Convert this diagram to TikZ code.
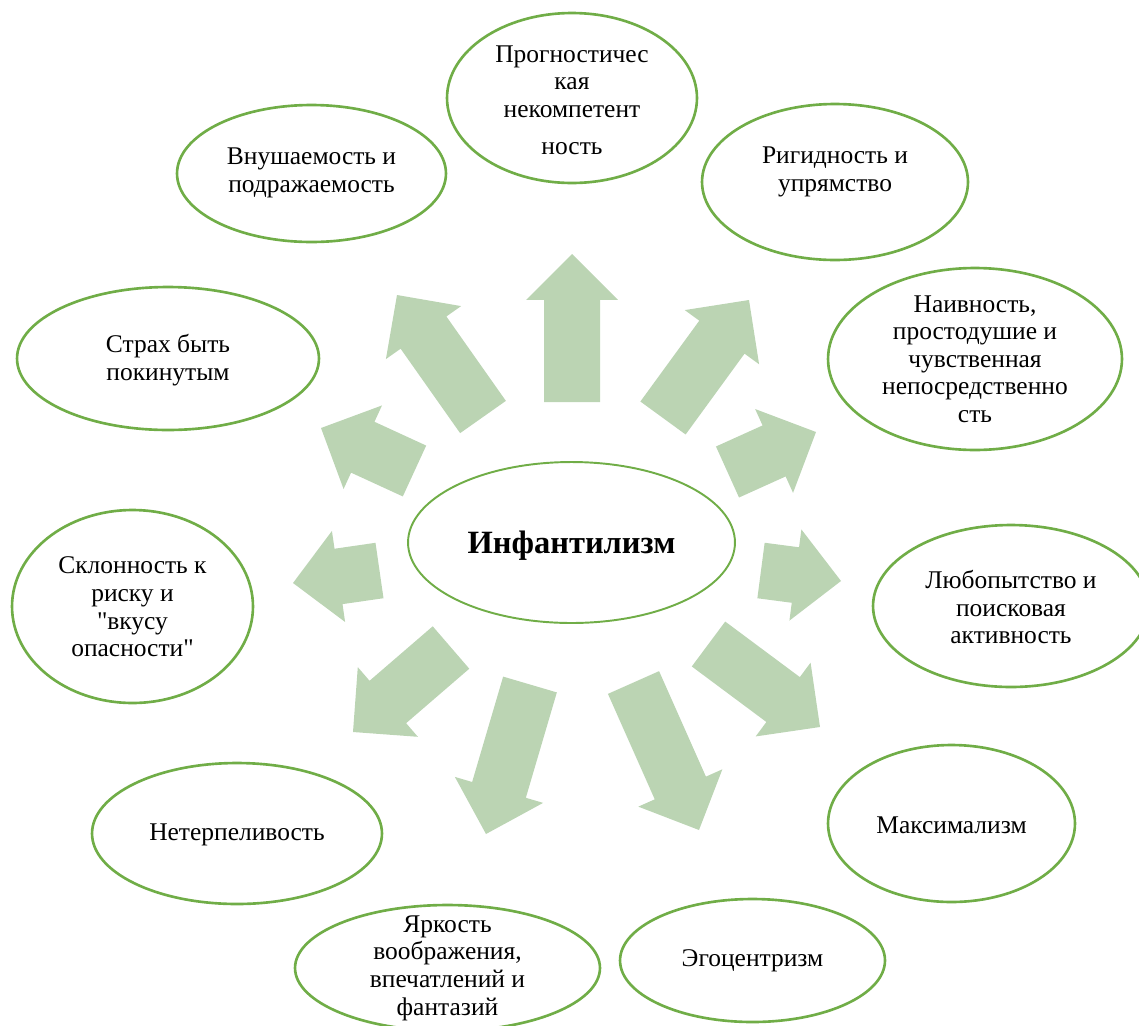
\documentclass[tikz,border=0pt]{standalone}
\usepackage{fontspec}
\setmainfont{Liberation Serif}[Ligatures=TeXOff]
\usepackage{tikz}
\usetikzlibrary{calc,shapes.geometric}
\definecolor{traitgreen}{HTML}{70AD47}
\definecolor{arrowgreen}{HTML}{BBD4B3}
\tikzstyle{trait}=[ellipse, draw=traitgreen, line width=1.5pt, inner sep=0pt]
\tikzstyle{core}=[ellipse, draw=traitgreen, line width=1.1pt, inner sep=0pt]
\tikzstyle{traittext}=[align=center, inner sep=0pt, font=\fontsize{14.5}{15.7}\selectfont]
\tikzstyle{coretext}=[inner sep=0pt, font=\fontsize{18.5}{20}\selectfont\bfseries]
\tikzstyle{blockarrow}=[fill=arrowgreen]
% block arrow from tail #1 to tip #2
\newcommand{\bigarrow}[2]{%
	\coordinate (#1b) at ($(#2)!0.92cm!(#1)$);
	\fill[blockarrow] ($(#1)!0.56cm!90:(#2)$) -- ($(#1b)!0.56cm!90:(#2)$)
		-- ($(#1b)!0.92cm!90:(#2)$) -- (#2) -- ($(#1b)!0.92cm!-90:(#2)$)
		-- ($(#1b)!0.56cm!-90:(#2)$) -- ($(#1)!0.56cm!-90:(#2)$) -- cycle;
}

\begin{document}
\begin{tikzpicture}[x=0.02cm, y=-0.02cm]
		   \useasboundingbox (0, 0) rectangle (1139, 1025);
		   \begin{scope}
			   \node (c) at (571.5, 542.5)[core, minimum width=6.54cm, minimum height=3.22cm] {};
			   \node (t1) at (572, 98)[trait, minimum width=5.0cm, minimum height=3.4cm] {};
			   \node (t2) at (835, 182)[trait, minimum width=5.32cm, minimum height=3.12cm] {};
			   \node (t3) at (975, 359)[trait, minimum width=5.88cm, minimum height=3.64cm] {};
			   \node (t4) at (1011, 606)[trait, minimum width=5.52cm, minimum height=3.24cm] {};
			   \node (t5) at (951.5, 823.5)[trait, minimum width=4.94cm, minimum height=3.14cm] {};
			   \node (t6) at (752.5, 960.5)[trait, minimum width=5.3cm, minimum height=2.46cm] {};
			   \node (t7) at (447.5, 968)[trait, minimum width=6.1cm, minimum height=2.52cm] {};
			   \node (t8) at (237, 833.5)[trait, minimum width=5.8cm, minimum height=2.82cm] {};
			   \node (t9) at (132.5, 606.5)[trait, minimum width=4.82cm, minimum height=3.86cm] {};
			   \node (t10) at (168, 358.5)[trait, minimum width=6.04cm, minimum height=2.86cm] {};
			   \node (t11) at (311.5, 173.5)[trait, minimum width=5.38cm, minimum height=2.74cm] {};

			   \node (ct) at (571.5, 546)[coretext] {Инфантилизм};
			   \node (l1) at (572, 100)[traittext] {Прогностичес\\кая\\некомпетент\\[5.5pt]ность};
			   \node (l2) at (835, 172)[traittext] {Ригидность и\\упрямство};
			   \node (l3) at (975, 359)[traittext] {Наивность,\\простодушие и\\чувственная\\непосредственно\\сть};
			   \node (l4) at (1011, 607)[traittext] {Любопытство и\\поисковая\\активность};
			   \node (l5) at (951.5, 825)[traittext] {Максимализм};
			   \node (l6) at (752.5, 961)[traittext] {Эгоцентризм};
			   \node (l7) at (447.5, 968)[traittext] {Яркость\\воображения,\\впечатлений и\\фантазий};
			   \node (l8) at (237, 835)[traittext] {Нетерпеливость};
			   \node (l9) at (132.5, 607)[traittext] {Склонность к\\риску и\\"вкусу\\опасности"};
			   \node (l10) at (168, 360)[traittext] {Страх быть\\покинутым};
			   \node (l11) at (311.5, 173)[traittext] {Внушаемость и\\подражаемость};
		   \end{scope}
		   \begin{scope}
			   \coordinate (p1) at (483, 417);   \coordinate (q1) at (397, 295);
			   \coordinate (p2) at (572, 402);   \coordinate (q2) at (572, 254);
			   \coordinate (p3) at (663, 418);   \coordinate (q3) at (749, 300);
			   \coordinate (p4) at (727.5, 472); \coordinate (q4) at (816, 432);
			   \coordinate (p5) at (761, 570.5); \coordinate (q5) at (841, 581);
			   \coordinate (p6) at (708.5, 644); \coordinate (q6) at (820, 727);
			   \coordinate (p7) at (633.5, 682.5); \coordinate (q7) at (699, 830);
			   \coordinate (p8) at (530, 684.5); \coordinate (q8) at (486, 834);
			   \coordinate (p9) at (451, 647.5); \coordinate (q9) at (353, 732);
			   \coordinate (p10) at (379.5, 570.5); \coordinate (q10) at (293, 583);
			   \coordinate (p11) at (414.5, 471); \coordinate (q11) at (321, 428);

			   \foreach \i in {1,...,11} {
				   \bigarrow{p\i}{q\i}
			   }
		   \end{scope}
\end{tikzpicture}
\end{document}
